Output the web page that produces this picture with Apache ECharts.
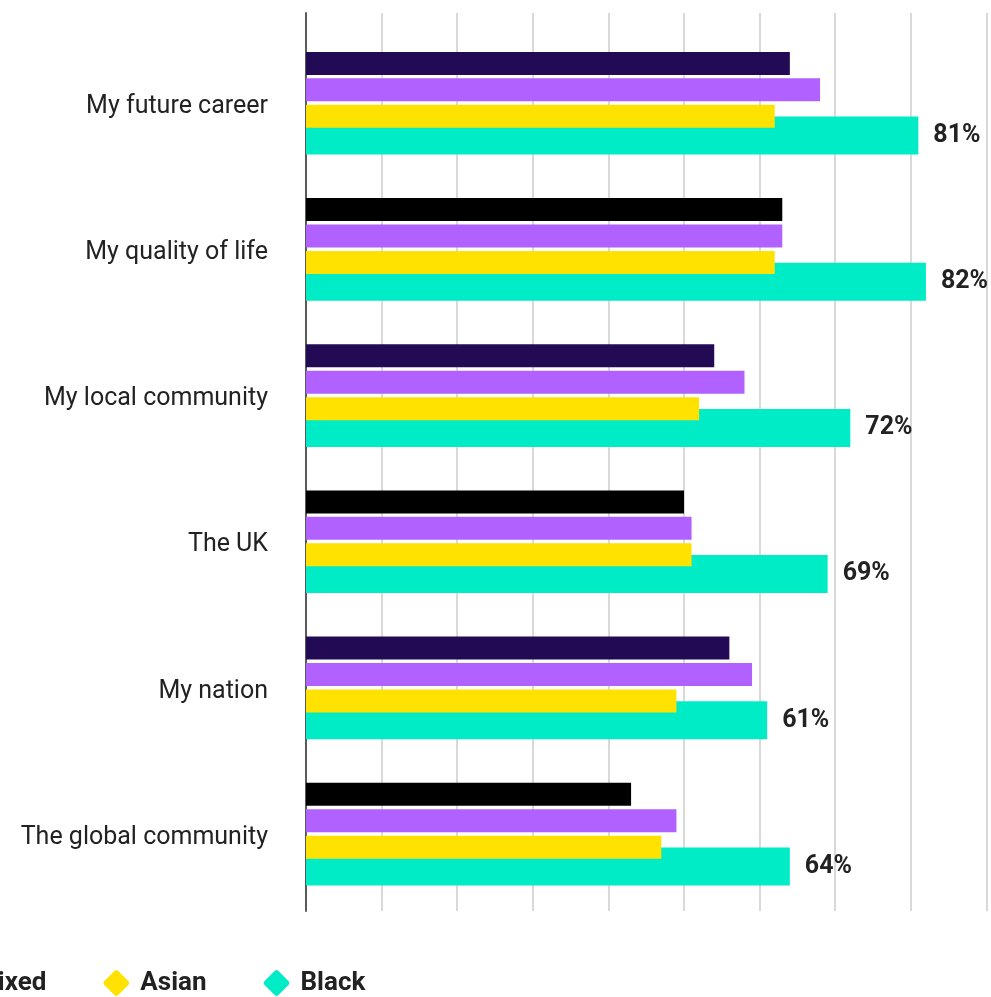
<!DOCTYPE html>
<html>
<head>
<meta charset="utf-8">
<script src="https://cdn.jsdelivr.net/npm/echarts@6/dist/echarts.min.js"></script>
<style>
html,body{margin:0;padding:0;background:#fff;}
#chart{width:991px;height:997px;}
</style>
</head>
<body>
<div id="chart"></div>
<script>
const categories = ['My future career', 'My quality of life', 'My local community', 'The UK', 'My nation', 'The global community'];
const seriesNames = ['White', 'Mixed', 'Asian', 'Black'];
const whiteValues = [64, 63, 54, 50, 56, 43];
const mixedValues = [68, 63, 58, 51, 59, 49];
const asianValues = [62, 62, 52, 51, 49, 47];
const blackValues = [81, 82, 72, 69, 61, 64];
const xTicks = [0, 10, 20, 30, 40, 50, 60, 70, 80, 90, 100];

const DARK = '#220a55';
const PURPLE = '#b061ff';
const YELLOW = '#ffe200';
const TEAL = '#00ecc6';
const FONT = 'Roboto, "Liberation Sans", sans-serif';

const chart = echarts.init(document.getElementById('chart'), null, {renderer: 'canvas'});
const diamond = 'path://M-0.12,-0.88 Q0,-1 0.12,-0.88 L0.88,-0.12 Q1,0 0.88,0.12 L0.12,0.88 Q0,1 -0.12,0.88 L-0.88,0.12 Q-1,0 -0.88,-0.12 Z';

const option = {
  animation: false,
  backgroundColor: '#fff',
  textStyle: {fontFamily: FONT},
  grid: [
    {left: 306, width: 756, top: 13, height: 898, containLabel: false, outerBoundsMode: 'none'},
    {left: 306, width: 756, top: 30, height: 877, containLabel: false, outerBoundsMode: 'none'}
  ],
  xAxis: [
    {
      gridIndex: 0, type: 'value', min: xTicks[0], max: xTicks[xTicks.length - 1], interval: 10,
      axisLine: {show: false}, axisTick: {show: false}, axisLabel: {show: false},
      splitLine: {show: true, lineStyle: {color: '#d9d9d9', width: 2}}
    },
    {
      gridIndex: 1, type: 'value', min: xTicks[0], max: xTicks[xTicks.length - 1], show: false
    }
  ],
  yAxis: [
    {
      gridIndex: 0, type: 'value', min: 0, max: 1,
      axisLine: {show: true, onZero: false, lineStyle: {color: '#5a5a5a', width: 2}},
      axisTick: {show: false}, axisLabel: {show: false}, splitLine: {show: false}
    },
    {
      gridIndex: 1, type: 'category', data: categories, inverse: true,
      axisLine: {show: false}, axisTick: {show: false}, splitLine: {show: false},
      axisLabel: {
        margin: 38,
        formatter: '{v|{value}}',
        rich: {v: {fontSize: 25, color: '#222', fontFamily: FONT, padding: [7, 0, 0, 0]}}
      }
    },
    {
      gridIndex: 1, type: 'category', data: categories, inverse: true, show: false
    }
  ],
  legend: {
    data: seriesNames,
    left: -223,
    top: 970,
    padding: 0,
    itemGap: 57,
    itemWidth: 26,
    itemHeight: 26,
    icon: diamond,
    textStyle: {fontSize: 26, fontWeight: 'bold', color: '#222', fontFamily: FONT, padding: [0, 0, 0, 6]}
  },
  series: [
    {
      name: '_spacerB', type: 'bar', xAxisIndex: 1, yAxisIndex: 2,
      barWidth: 65, barGap: '0%', data: categories.map(() => null), silent: true, z: 1
    },
    {
      name: seriesNames[3], type: 'bar', xAxisIndex: 1, yAxisIndex: 2,
      barWidth: 38, barGap: '0%', data: blackValues, z: 1,
      itemStyle: {color: TEAL},
      label: {show: true, position: 'right', distance: 15, formatter: '{c}%', fontSize: 25, fontWeight: 'bold', color: '#222', fontFamily: FONT}
    },
    {
      name: seriesNames[0], type: 'bar', xAxisIndex: 1, yAxisIndex: 1,
      barWidth: 23, barGap: '15%', z: 2,
      itemStyle: {color: DARK},
      data: whiteValues.map((v, i) => ({value: v, itemStyle: {color: i % 2 ? '#000000' : DARK}}))
    },
    {
      name: seriesNames[1], type: 'bar', xAxisIndex: 1, yAxisIndex: 1,
      barWidth: 23, barGap: '15%', z: 2,
      itemStyle: {color: PURPLE}, data: mixedValues
    },
    {
      name: seriesNames[2], type: 'bar', xAxisIndex: 1, yAxisIndex: 1,
      barWidth: 23, barGap: '15%', z: 2,
      itemStyle: {color: YELLOW}, data: asianValues
    },
    {
      name: '_spacerA', type: 'bar', xAxisIndex: 1, yAxisIndex: 1,
      barWidth: 23, barGap: '15%', data: categories.map(() => null), silent: true, z: 2
    }
  ]
};
chart.setOption(option);
</script>
</body>
</html>
